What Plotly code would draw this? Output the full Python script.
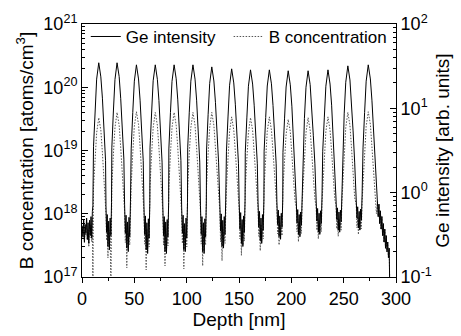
import plotly.graph_objects as go

# ---------------- data ----------------
depth_nm = [
    # start
    0.2, 0.9, 1.6, 2.3, 3.0, 3.7, 4.4, 5.1, 5.8, 6.5, 7.2, 7.9, 8.6, 9.3, 9.9, 10.4,
    11.0, 12.5, 14.0, 16.0, 18.0, 19.5, 21.0, 22.5,
    22.9, 23.5, 24.1, 24.8, 25.5, 26.2, 26.9, 27.6, 28.2,
    28.5, 30.0, 31.5, 33.5, 35.5, 37.0, 38.5, 40.0,
    40.7, 41.4, 42.1, 42.8, 43.5, 44.2, 44.9, 45.6, 46.3,
    47.0, 48.5, 50.0, 52.0, 54.0, 55.5, 57.0, 58.5,
    59.2, 59.9, 60.6, 61.3, 62.0, 62.7, 63.4, 64.1, 64.8,
    65.0, 66.5, 68.0, 70.0, 72.0, 73.5, 75.0, 76.5,
    77.2, 77.9, 78.6, 79.3, 80.0, 80.7, 81.4, 82.1, 82.8,
    83.0, 84.5, 86.0, 88.0, 90.0, 91.5, 93.0, 94.5,
    95.2, 95.9, 96.6, 97.3, 98.0, 98.7, 99.4, 100.1, 100.8,
    101.0, 102.5, 104.0, 106.0, 108.0, 109.5, 111.0, 112.5,
    113.2, 113.9, 114.6, 115.3, 116.0, 116.7, 117.4, 118.1, 118.8,
    119.0, 120.5, 122.0, 124.0, 126.0, 127.5, 129.0, 130.5,
    131.7, 132.4, 133.1, 133.8, 134.5, 135.2, 135.9, 136.6, 137.3,
    138.0, 139.5, 141.0, 143.0, 145.0, 146.5, 148.0, 149.5,
    150.2, 150.9, 151.6, 152.3, 153.0, 153.7, 154.4, 155.1, 155.8,
    156.0, 157.5, 159.0, 161.0, 163.0, 164.5, 166.0, 167.5,
    168.2, 168.9, 169.6, 170.3, 171.0, 171.7, 172.4, 173.1, 173.8,
    174.0, 175.5, 177.0, 179.0, 181.0, 182.5, 184.0, 185.5,
    186.2, 186.9, 187.6, 188.3, 189.0, 189.7, 190.4, 191.1, 191.8,
    192.0, 193.5, 195.0, 197.0, 199.0, 200.5, 202.0, 203.5,
    204.7, 205.4, 206.1, 206.8, 207.5, 208.2, 208.9, 209.6, 210.3,
    211.0, 212.5, 214.0, 216.0, 218.0, 219.5, 221.0, 222.5,
    223.7, 224.4, 225.1, 225.8, 226.5, 227.2, 227.9, 228.6, 229.3,
    230.0, 231.5, 233.0, 235.0, 237.0, 238.5, 240.0, 241.5,
    242.7, 243.4, 244.1, 244.8, 245.5, 246.2, 246.9, 247.6, 248.3,
    249.0, 250.5, 252.0, 254.0, 256.0, 257.5, 259.0, 260.5,
    262.0, 262.7, 263.4, 264.1, 264.8, 265.5, 266.2, 266.9, 267.6,
    268.5, 270.0, 271.5, 273.5, 275.5, 277.0, 278.5, 280.0,
    # tail
    281.3, 282.3, 283.0, 283.7, 284.4, 285.1, 285.8, 286.5, 287.2, 287.9,
    288.6, 289.3, 290.0, 290.7, 291.4, 292.1, 292.8, 293.5, 294.2,
]

ge_intensity = [
    0.40, 0.30, 0.48, 0.26, 0.42, 0.33, 0.50, 0.28, 0.44, 0.25, 0.47, 0.31, 0.52, 0.29, 0.60, 0.70,
    3.5, 9.4, 22.2, 34.7, 23.6, 13.2, 5.9, 2.4,
    0.70, 0.34, 0.55, 0.23, 0.46, 0.21, 0.50, 0.31, 0.76,
    3.4, 9.3, 22.0, 34.7, 23.8, 13.0, 6.0, 2.5,
    0.72, 0.33, 0.54, 0.22, 0.45, 0.20, 0.51, 0.30, 0.78,
    3.3, 8.9, 21.0, 32.8, 22.3, 12.5, 5.6, 2.4,
    0.68, 0.32, 0.53, 0.21, 0.44, 0.19, 0.49, 0.29, 0.75,
    3.4, 8.8, 21.2, 32.8, 22.1, 12.4, 5.7, 2.3,
    0.71, 0.31, 0.52, 0.20, 0.45, 0.19, 0.48, 0.30, 0.77,
    3.3, 8.9, 20.9, 32.8, 22.4, 12.6, 5.6, 2.4,
    0.69, 0.33, 0.54, 0.21, 0.43, 0.20, 0.50, 0.29, 0.76,
    3.4, 9.0, 21.0, 32.8, 22.2, 12.5, 5.5, 2.3,
    0.70, 0.32, 0.52, 0.20, 0.44, 0.19, 0.49, 0.30, 0.78,
    3.2, 8.4, 19.8, 31.0, 21.1, 11.8, 5.3, 2.3,
    0.73, 0.35, 0.56, 0.23, 0.47, 0.22, 0.52, 0.32, 0.80,
    3.1, 7.9, 18.8, 29.4, 20.0, 11.2, 5.0, 2.2,
    0.74, 0.37, 0.58, 0.25, 0.48, 0.23, 0.53, 0.34, 0.81,
    3.0, 7.7, 18.3, 28.6, 19.4, 10.9, 4.9, 2.2,
    0.76, 0.39, 0.60, 0.27, 0.50, 0.25, 0.55, 0.36, 0.82,
    3.1, 7.8, 18.4, 28.6, 19.5, 10.8, 4.8, 2.2,
    0.78, 0.42, 0.62, 0.30, 0.53, 0.28, 0.57, 0.39, 0.84,
    3.0, 7.5, 17.9, 27.9, 19.0, 10.6, 4.7, 2.1,
    0.80, 0.44, 0.63, 0.32, 0.55, 0.30, 0.59, 0.41, 0.86,
    3.0, 7.6, 17.8, 27.9, 19.1, 10.7, 4.8, 2.2,
    0.82, 0.46, 0.65, 0.34, 0.57, 0.32, 0.61, 0.43, 0.88,
    3.1, 7.7, 18.3, 28.6, 19.4, 10.9, 4.9, 2.2,
    0.84, 0.48, 0.66, 0.36, 0.59, 0.34, 0.62, 0.45, 0.90,
    3.3, 8.6, 20.4, 31.9, 21.7, 12.1, 5.4, 2.3,
    0.85, 0.50, 0.68, 0.38, 0.60, 0.36, 0.64, 0.47, 0.92,
    3.4, 8.9, 21.0, 32.8, 22.3, 12.5, 5.6, 2.4,
    1.0, 0.79, 0.52, 0.73, 0.43, 0.61, 0.37, 0.52, 0.31, 0.43,
    0.26, 0.37, 0.22, 0.31, 0.20, 0.26, 0.17, 0.22, 0.05,
]

b_concentration = [
    6.5e17, 4.0e17, 7.5e17, 3.5e17, 6.0e17, 4.5e17, 8.0e17, 3.8e17, 5.5e17, 3.0e17, 7.0e17, 4.2e17, 6.8e17, 3.6e17, 8.5e17, 5e16,
    2.6e18, 7.3e18, 1.9e19, 3.3e19, 2.1e19, 9.2e18, 3.6e18, 1.7e18,
    1.0e18, 3.8e17, 6.8e17, 2.0e17, 6.0e17, 3.0e17, 5.5e17, 5.0e16, 1.2e18,
    2.7e18, 8.8e18, 2.3e19, 4.0e19, 2.5e19, 1.1e19, 4.4e18, 1.8e18,
    1.1e18, 3.5e17, 7.0e17, 1.4e17, 6.2e17, 2.8e17, 5.0e17, 3.2e17, 1.25e18,
    2.8e18, 9.0e18, 2.4e19, 4.1e19, 2.6e19, 1.15e19, 4.5e18, 1.8e18,
    1.05e18, 3.3e17, 6.5e17, 1.3e17, 5.8e17, 2.6e17, 4.8e17, 3.0e17, 1.2e18,
    2.7e18, 8.7e18, 2.3e19, 4.0e19, 2.5e19, 1.1e19, 4.3e18, 1.7e18,
    1.1e18, 3.2e17, 6.8e17, 1.5e17, 6.0e17, 2.5e17, 4.9e17, 3.1e17, 1.25e18,
    2.6e18, 8.8e18, 2.3e19, 4.0e19, 2.5e19, 1.1e19, 4.4e18, 1.8e18,
    1.05e18, 3.4e17, 6.6e17, 1.35e17, 5.9e17, 2.7e17, 5.0e17, 3.0e17, 1.2e18,
    2.7e18, 8.9e18, 2.3e19, 4.0e19, 2.5e19, 1.1e19, 4.4e18, 1.7e18,
    1.1e18, 3.3e17, 6.9e17, 1.5e17, 6.1e17, 2.6e17, 4.8e17, 3.2e17, 1.25e18,
    2.7e18, 8.8e18, 2.3e19, 4.0e19, 2.5e19, 1.1e19, 4.3e18, 1.7e18,
    1.1e18, 3.6e17, 7.0e17, 1.8e17, 6.2e17, 2.9e17, 5.1e17, 3.4e17, 1.3e18,
    2.5e18, 7.5e18, 2.0e19, 3.4e19, 2.1e19, 9.5e18, 3.7e18, 1.6e18,
    1.15e18, 4.0e17, 7.2e17, 2.2e17, 6.5e17, 3.2e17, 5.5e17, 3.7e17, 1.3e18,
    2.5e18, 7.3e18, 1.9e19, 3.3e19, 2.1e19, 9.2e18, 3.6e18, 1.6e18,
    1.2e18, 4.4e17, 7.5e17, 2.6e17, 6.8e17, 3.6e17, 5.8e17, 4.0e17, 1.35e18,
    2.6e18, 7.5e18, 2.0e19, 3.4e19, 2.1e19, 9.5e18, 3.7e18, 1.7e18,
    1.25e18, 4.8e17, 7.8e17, 3.2e17, 7.2e17, 4.2e17, 6.2e17, 4.5e17, 1.4e18,
    2.5e18, 6.8e18, 1.8e19, 3.1e19, 2.0e19, 8.7e18, 3.4e18, 1.6e18,
    1.3e18, 5.2e17, 8.2e17, 3.6e17, 7.6e17, 4.6e17, 6.6e17, 4.9e17, 1.45e18,
    2.6e18, 7.3e18, 1.9e19, 3.3e19, 2.1e19, 9.2e18, 3.6e18, 1.7e18,
    1.3e18, 5.5e17, 8.5e17, 4.0e17, 8.0e17, 5.0e17, 7.0e17, 5.2e17, 1.5e18,
    2.6e18, 7.5e18, 2.0e19, 3.4e19, 2.1e19, 9.5e18, 3.7e18, 1.7e18,
    1.35e18, 5.8e17, 8.8e17, 4.4e17, 8.3e17, 5.4e17, 7.3e17, 5.5e17, 1.5e18,
    2.8e18, 8.8e18, 2.3e19, 4.0e19, 2.5e19, 1.1e19, 4.4e18, 1.8e18,
    1.4e18, 6.0e17, 9.0e17, 4.7e17, 8.6e17, 5.7e17, 7.6e17, 5.8e17, 1.55e18,
    2.8e18, 9.0e18, 2.4e19, 4.1e19, 2.6e19, 1.15e19, 4.5e18, 1.8e18,
    1.0e18, 1.6e18, 9e17, 1.4e18, 7e17, 1.1e18, 5.6e17, 9e17, 4.5e17, 7e17,
    3.5e17, 5.6e17, 2.8e17, 4.5e17, 2.5e17, 3.5e17, 2.0e17, 2.8e17, 5e16,
]

assert len(depth_nm) == len(ge_intensity) == len(b_concentration)

x_ticks = [0, 50, 100, 150, 200, 250, 300]
left_tickvals = [1e17, 1e18, 1e19, 1e20, 1e21]
left_ticktext = ["10<sup>17</sup>", "10<sup>18</sup>", "10<sup>19</sup>", "10<sup>20</sup>", "10<sup>21</sup>"]
right_tickvals = [0.1, 1, 10, 100]
right_ticktext = ["10<sup>-1</sup>", "10<sup>0</sup>", "10<sup>1</sup>", "10<sup>2</sup>"]

FONT = "Liberation Sans, Arial, Helvetica, sans-serif"

fig = go.Figure()
fig.add_trace(go.Scatter(
    x=depth_nm, y=ge_intensity, yaxis="y2", mode="lines", name="Ge intensity",
    line=dict(color="black", width=1), legend="legend",
))
fig.add_trace(go.Scatter(
    x=depth_nm, y=b_concentration, yaxis="y", mode="lines", name="B concentration",
    line=dict(color="#555555", width=1, dash="1.5px,1.5px"), legend="legend2",
))

axis_common = dict(showline=True, linecolor="black", linewidth=1, showgrid=False,
                   zeroline=False, tickcolor="black",
                   tickfont=dict(family=FONT, size=18, color="black"))

legend_style = dict(orientation="h", y=1.02, xanchor="left", yanchor="top",
                    bgcolor="rgba(0,0,0,0)", font=dict(family=FONT, size=17, color="black"))

fig.update_layout(
    width=461, height=336,
    margin=dict(l=82, r=62, t=24, b=58),
    paper_bgcolor="white", plot_bgcolor="white",
    font=dict(family=FONT, color="black"),
    showlegend=True,
    legend=dict(x=0.012, **legend_style),
    legend2=dict(x=0.467, **legend_style),
    xaxis=dict(**axis_common, range=[0, 300], tickmode="array", tickvals=x_ticks,
               ticks="outside", ticklen=5, mirror=True,
               minor=dict(dtick=25, tick0=0, ticks="outside", ticklen=3, tickcolor="black"),
               title=dict(text="Depth [nm]", font=dict(family=FONT, size=19), standoff=2)),
    yaxis=dict(**axis_common, type="log", range=[17, 21], tickmode="array",
               tickvals=left_tickvals, ticktext=left_ticktext,
               ticks="inside", ticklen=6,
               minor=dict(dtick="D1", ticks="inside", ticklen=3, tickcolor="black"),
               title=dict(text="B concentration [atoms/cm<sup>3</sup>]",
                          font=dict(family=FONT, size=19), standoff=4)),
    yaxis2=dict(**axis_common, type="log", range=[-1, 2], overlaying="y", side="right",
                tickmode="array", tickvals=right_tickvals, ticktext=right_ticktext,
                ticks="inside", ticklen=6,
                minor=dict(dtick="D1", ticks="inside", ticklen=3, tickcolor="black"),
                title=dict(text="Ge intensity [arb. units]",
                           font=dict(family=FONT, size=19), standoff=4)),
)

fig.write_html("out.html")
